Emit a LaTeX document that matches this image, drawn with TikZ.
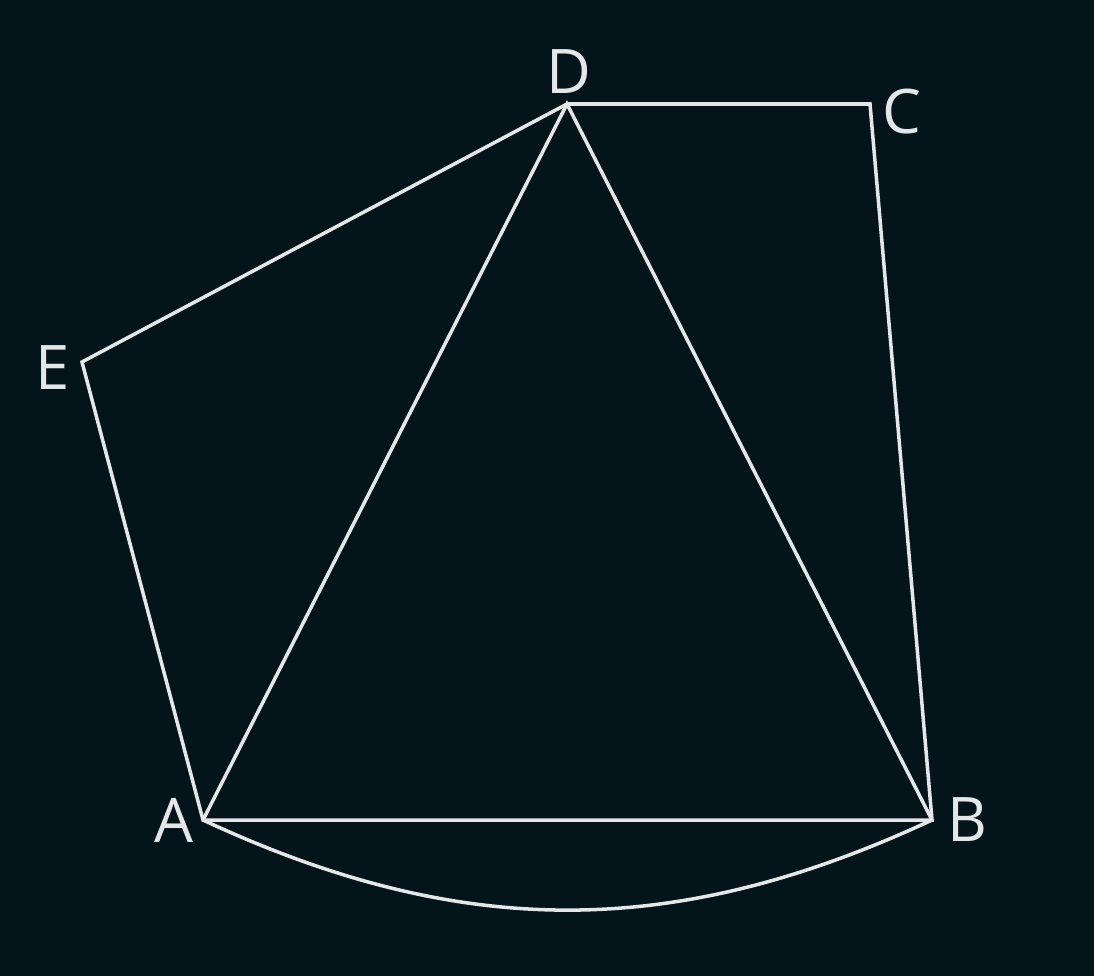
\documentclass[tikz,border=0pt]{standalone}
\usepackage{fontspec}
\setsansfont{Open Sans}
\usepackage{xcolor}
\usepackage{tikz}
\usetikzlibrary{calc}

\definecolor{boardbg}{HTML}{03141A}
\definecolor{chalk}{HTML}{E4E6E7}

\begin{document}
\begin{tikzpicture}[x=0.02cm, y=-0.02cm, line width=2pt, color=chalk, line join=miter]
		\fill[boardbg] (0,0) rectangle (1094,976);
		\useasboundingbox (0,0) rectangle (1094,976);
		
		\coordinate (A) at (203,820);
		\coordinate (B) at (932,820);
		\coordinate (C) at (870,104);
		\coordinate (D) at (567,104);
		\coordinate (E) at (82,362);
		
		\draw (A) -- (E) -- (D) -- (C) -- (B) -- cycle;
		\draw (A) -- (D) -- (B);
		\draw (A) to[bend right=25] (B);
		
		\begin{scope}[font=\sffamily\fontsize{35}{40}\selectfont, text=chalk]
			\node (labA) at (174,820) {A};
			\node (labB) at (967,820) {B};
			\node (labC) at (902,112) {C};
			\node (labD) at (569,72) {D};
			\node (labE) at (53,368) {E};
		\end{scope}
	\end{tikzpicture}
\end{document}
